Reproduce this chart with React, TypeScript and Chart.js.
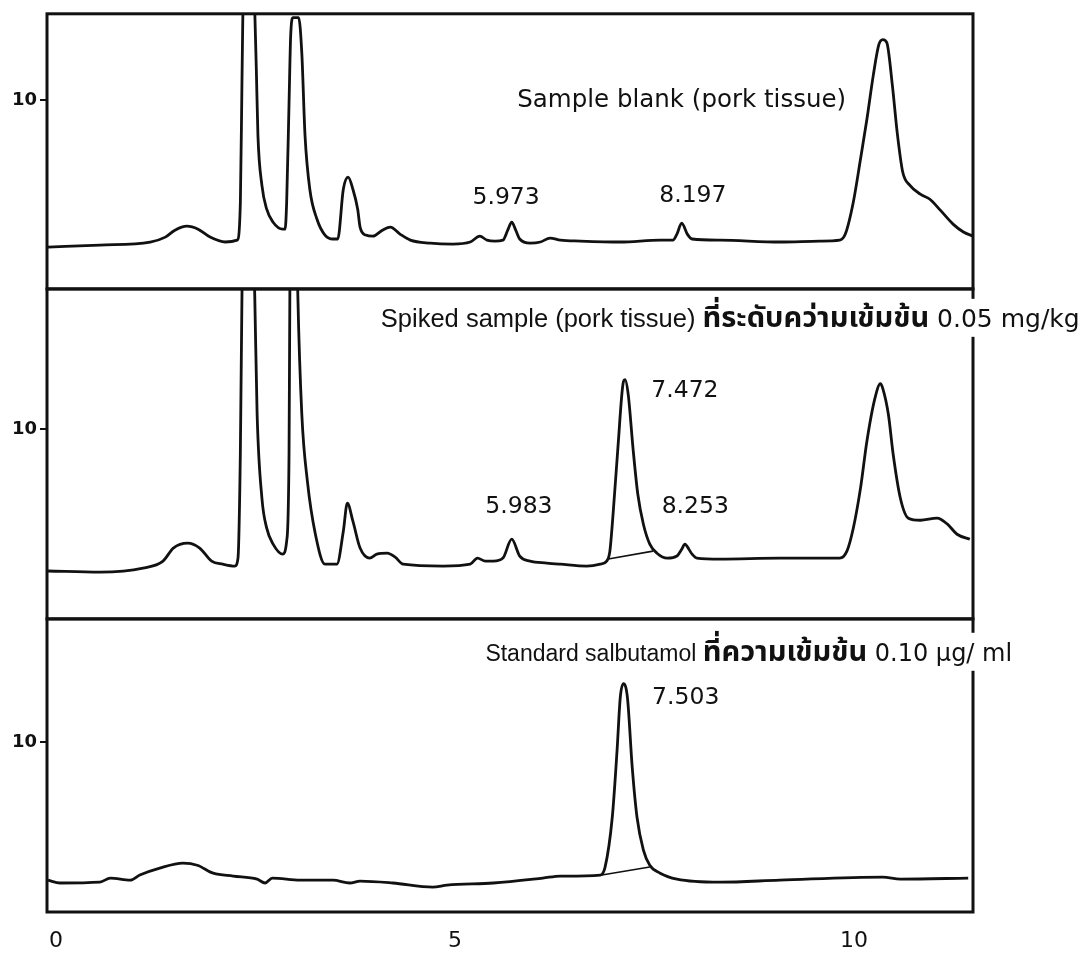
import { useEffect, useRef } from "react";
import { Chart, registerables } from "chart.js";

Chart.register(...registerables);

// ---- Data (retention time in min, detector signal) ----
const blankTime = [-0.1, 0.55, 1.18, 1.37, 1.49, 1.64, 1.78, 1.93, 2.12, 2.27, 2.31, 2.33, 2.36, 2.41, 2.47, 2.51, 2.53, 2.58, 2.64, 2.72, 2.84, 2.87, 2.89, 2.92, 2.94, 2.97, 3.04, 3.08, 3.12, 3.18, 3.27, 3.37, 3.47, 3.53, 3.6, 3.66, 3.72, 3.78, 3.81, 3.88, 3.97, 4.09, 4.19, 4.31, 4.44, 4.69, 4.97, 5.19, 5.31, 5.4, 5.5, 5.6, 5.66, 5.71, 5.76, 5.81, 5.94, 6.07, 6.19, 6.32, 6.57, 7.07, 7.57, 7.73, 7.78, 7.84, 7.91, 7.97, 8.32, 9.07, 9.57, 9.82, 9.89, 9.99, 10.08, 10.16, 10.24, 10.31, 10.36, 10.41, 10.48, 10.54, 10.61, 10.7, 10.83, 10.95, 11.08, 11.24, 11.37, 11.49];
const blankSignal = [2.22, 2.33, 2.49, 2.75, 3.12, 3.33, 3.17, 2.75, 2.49, 2.59, 4.6, 11.0, 20, 26, 18, 11.64, 8.15, 5.5, 4.23, 3.54, 3.17, 3.17, 4.6, 9.89, 13.4, 14.4, 14.4, 12.5, 8.15, 5.29, 3.7, 2.86, 2.65, 2.65, 5.29, 5.93, 5.29, 4.23, 3.28, 2.86, 2.8, 3.12, 3.28, 2.91, 2.59, 2.43, 2.38, 2.49, 2.8, 2.59, 2.54, 2.59, 3.12, 3.54, 3.12, 2.65, 2.43, 2.49, 2.7, 2.59, 2.54, 2.49, 2.59, 2.59, 2.91, 3.49, 2.91, 2.65, 2.59, 2.49, 2.54, 2.59, 2.91, 4.6, 6.88, 8.99, 11.32, 12.96, 13.23, 13.07, 10.79, 8.31, 6.19, 5.5, 5.03, 4.76, 4.18, 3.44, 3.02, 2.8];

const spikedTime = [-0.1, 0.55, 1.09, 1.34, 1.47, 1.65, 1.8, 1.95, 2.09, 2.24, 2.28, 2.31, 2.33, 2.41, 2.49, 2.52, 2.58, 2.64, 2.72, 2.84, 2.89, 2.92, 2.93, 2.98, 3.03, 3.08, 3.15, 3.25, 3.37, 3.52, 3.6, 3.65, 3.72, 3.81, 3.93, 4.02, 4.15, 4.25, 4.35, 4.85, 5.19, 5.28, 5.38, 5.48, 5.6, 5.71, 5.81, 5.94, 6.15, 6.32, 6.65, 6.82, 6.9, 6.94, 6.98, 7.04, 7.11, 7.13, 7.17, 7.23, 7.29, 7.36, 7.44, 7.53, 7.66, 7.78, 7.84, 7.88, 7.93, 7.97, 8.03, 8.32, 9.07, 9.82, 9.91, 9.99, 10.08, 10.16, 10.26, 10.33, 10.36, 10.43, 10.49, 10.58, 10.68, 10.83, 11.04, 11.17, 11.29, 11.45];
const spikedSignal = [2.53, 2.47, 2.68, 3.05, 3.74, 4.0, 3.74, 3.05, 2.89, 2.79, 3.21, 8.84, 17.1, 30, 17.1, 10.79, 6.37, 4.79, 3.95, 3.42, 4.11, 8.84, 17.1, 30, 17.1, 10.79, 7.26, 4.47, 2.89, 2.89, 4.63, 6.11, 5.16, 3.74, 3.21, 3.42, 3.47, 3.26, 2.89, 2.79, 2.89, 3.21, 3.05, 3.05, 3.21, 4.21, 3.32, 3.05, 2.95, 2.89, 2.79, 2.89, 3.05, 3.58, 5.53, 9.0, 12.53, 12.63, 11.84, 9.0, 6.58, 5.0, 3.95, 3.47, 3.21, 3.32, 3.68, 3.95, 3.68, 3.42, 3.21, 3.16, 3.21, 3.21, 3.58, 4.79, 6.89, 9.37, 11.63, 12.42, 12.16, 10.79, 8.68, 6.37, 5.32, 5.21, 5.32, 5.0, 4.47, 4.21];
const spikedBaseTime = [6.92, 7.48];
const spikedBaseSignal = [3.16, 3.58];

const standardTime = [-0.1, 0.05, 0.55, 0.68, 0.93, 1.05, 1.3, 1.59, 1.77, 1.97, 2.22, 2.52, 2.62, 2.71, 3.06, 3.47, 3.68, 3.81, 4.22, 4.72, 4.9, 5.48, 6.1, 6.32, 6.82, 6.88, 6.97, 7.03, 7.07, 7.11, 7.16, 7.22, 7.28, 7.36, 7.44, 7.57, 7.78, 8.32, 9.07, 10.36, 10.58, 11.43];
const standardSignal = [1.88, 1.71, 1.76, 2.0, 1.88, 2.18, 2.59, 2.88, 2.76, 2.29, 2.12, 1.94, 1.71, 2.0, 1.88, 1.88, 1.71, 1.82, 1.71, 1.47, 1.59, 1.71, 2.0, 2.12, 2.18, 2.65, 5.59, 9.53, 12.65, 13.47, 12.65, 8.53, 5.59, 3.65, 2.76, 2.29, 1.94, 1.76, 1.88, 2.06, 1.94, 2.0];
const standardBaseTime = [6.84, 7.44];
const standardBaseSignal = [2.18, 2.65];

const xTickValues = [0, 5, 10];
const yTickValues = [10];

const panelTitles = [
  "Sample blank (pork tissue)",
  "Spiked sample (pork tissue) ที่ระดับคว่ามเข้มข้น 0.05 mg/kg",
  "Standard salbutamol ที่ความเข้มข้น 0.10 µg/ ml",
];
const peakLabels = ["5.973", "8.197", "5.983", "7.472", "8.253", "7.503"];

// ---- Layout / style (placement of annotations in data units) ----
const DEJAVU = '"DejaVu Sans", sans-serif';
const LIB = '"Liberation Sans", Arial, sans-serif';
const THAI = '"Noto Sans Thai", "Loma", "Garuda", "DejaVu Sans", sans-serif';
const titleStyle = [
  { axis: "yTop", x: 5.78, y: 9.68, head: `24.5px ${DEJAVU}`, thai: `bold 28px ${THAI}`, tail: `24.5px ${DEJAVU}` },
  { axis: "yMid", x: 4.07, y: 15.42, head: `25.5px ${LIB}`, thai: `bold 29px ${THAI}`, tail: `25px ${DEJAVU}` },
  { axis: "yBot", x: 5.38, y: 14.82, head: `23px ${LIB}`, thai: `bold 29px ${THAI}`, tail: `24px ${DEJAVU}` },
];
const peakPlacement = [
  { axis: "yTop", x: 5.64, y: 4.5 },
  { axis: "yTop", x: 7.98, y: 4.6 },
  { axis: "yMid", x: 5.8, y: 5.58 },
  { axis: "yMid", x: 7.88, y: 11.74 },
  { axis: "yMid", x: 8.01, y: 5.58 },
  { axis: "yBot", x: 7.89, y: 12.29 },
];

const INK = "#111";

const toPoints = (xs: number[], ys: number[]) => xs.map((x, i) => ({ x, y: ys[i] }));

const splitRuns = (s: string) => {
  const m = s.match(/^([^\u0E00-\u0E7F]*)([\u0E00-\u0E7F]*)(.*)$/) || ["", s, "", ""];
  return [m[1], m[2], m[3]];
};

const panelPlugin = {
  id: "panelPlugin",
  beforeDatasetDraw(chart: any, args: any) {
    const { xScale, yScale } = args.meta;
    const ctx = chart.ctx;
    ctx.save();
    ctx.beginPath();
    ctx.rect(xScale.left, yScale.top, xScale.right - xScale.left, yScale.bottom - yScale.top);
    ctx.clip();
  },
  afterDatasetDraw(chart: any) {
    chart.ctx.restore();
  },
  afterDraw(chart: any) {
    const ctx = chart.ctx;
    const area = chart.chartArea;
    ctx.save();
    ctx.strokeStyle = INK;
    ctx.lineWidth = 3;
    ["yTop", "yMid", "yBot"].forEach((id) => {
      const s = chart.scales[id];
      ctx.strokeRect(area.left, s.top, area.right - area.left, s.bottom - s.top);
    });
    const xs = chart.scales.x;
    ctx.textBaseline = "alphabetic";
    ctx.textAlign = "left";
    panelTitles.forEach((t, i) => {
      const st = titleStyle[i];
      const px = xs.getPixelForValue(st.x);
      const py = chart.scales[st.axis].getPixelForValue(st.y);
      const runs = splitRuns(t);
      const fonts = [st.head, st.thai, st.tail];
      const widths = runs.map((r, k) => {
        ctx.font = fonts[k];
        return r ? ctx.measureText(r).width : 0;
      });
      const total = widths.reduce((a, b) => a + b, 0);
      ctx.fillStyle = "#fff";
      ctx.fillRect(px - 4, py - 28, total + 8, 38);
      ctx.fillStyle = INK;
      let cx = px;
      runs.forEach((r, k) => {
        if (!r) return;
        ctx.font = fonts[k];
        ctx.fillText(r, cx, py);
        cx += widths[k];
      });
    });
    ctx.font = `23.5px ${DEJAVU}`;
    ctx.textAlign = "center";
    peakLabels.forEach((t, i) => {
      const p = peakPlacement[i];
      const px = xs.getPixelForValue(p.x);
      const py = chart.scales[p.axis].getPixelForValue(p.y);
      ctx.fillStyle = INK;
      ctx.fillText(t, px, py);
    });
    ctx.restore();
  },
};

const yAxis = (max: number, weight: number) => ({
  type: "linear",
  position: "left",
  stack: "panels",
  stackWeight: weight,
  min: 0,
  max,
  afterBuildTicks: (s: any) => {
    s.ticks = yTickValues.map((v) => ({ value: v }));
  },
  afterFit: (s: any) => {
    s.width = 47;
  },
  grid: { display: true, drawOnChartArea: false, drawTicks: true, tickLength: 7, color: INK, lineWidth: 2 },
  border: { display: false },
  ticks: { color: INK, padding: 3, font: { family: DEJAVU, size: 18, weight: "bold" } },
});

export default function App() {
  const ref = useRef<HTMLCanvasElement | null>(null);
  useEffect(() => {
    if (!ref.current) return;
    const line = (xs: number[], ys: number[], axis: string, width = 2.8) => ({
      data: toPoints(xs, ys),
      yAxisID: axis,
      borderColor: INK,
      borderWidth: width,
      pointRadius: 0,
      fill: false,
      cubicInterpolationMode: "monotone",
    });
    const chart = new Chart(ref.current, {
      type: "line",
      data: {
        datasets: [
          line(blankTime, blankSignal, "yTop"),
          line(spikedTime, spikedSignal, "yMid"),
          line(spikedBaseTime, spikedBaseSignal, "yMid", 1.6),
          line(standardTime, standardSignal, "yBot"),
          line(standardBaseTime, standardBaseSignal, "yBot", 1.6),
        ] as any,
      },
      options: {
        animation: false,
        responsive: true,
        maintainAspectRatio: false,
        layout: { padding: { top: 11, right: 108, left: 0, bottom: 0 } },
        plugins: { legend: { display: false }, tooltip: { enabled: false }, title: { display: false } },
        scales: {
          x: {
            type: "linear",
            min: -0.113,
            max: 11.49,
            afterBuildTicks: (s: any) => {
              s.ticks = xTickValues.map((v) => ({ value: v }));
            },
            afterFit: (s: any) => {
              s.height = 43;
            },
            grid: { display: false },
            border: { display: false },
            ticks: { color: INK, padding: 8, maxRotation: 0, font: { family: DEJAVU, size: 22 } },
          },
          yBot: yAxis(17.29, 294),
          yMid: yAxis(17.42, 331),
          yTop: yAxis(14.6, 276),
        } as any,
      },
      plugins: [panelPlugin],
    });
    return () => chart.destroy();
  }, []);
  return (
    <div style={{ position: "absolute", left: 0, top: 0, width: 1081, height: 955, background: "#fff" }}>
      <canvas ref={ref} />
    </div>
  );
}
